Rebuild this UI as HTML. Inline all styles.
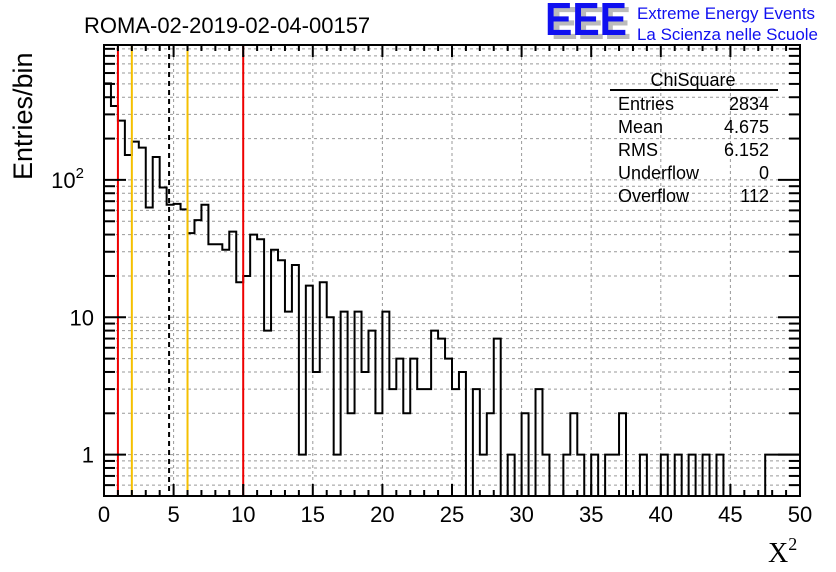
<!DOCTYPE html>
<html><head><meta charset="utf-8"><style>
html,body{margin:0;padding:0;background:#fff;width:836px;height:572px;overflow:hidden}
svg{display:block;font-family:"Liberation Sans",sans-serif}
</style></head><body>
<svg id="c" width="836" height="572"></svg>
<script>
const binWidth = 0.5;
const binCounts = [505,345,270,152,190,172,63,147,88,66,67,61,41,51,66,34,34,31,42,18,20,40,37,8,31,26,11,24,1,17,4,18,10,1,11,2,11,4,8,2,11,3,5,2,5,3,3,8,7,5,3,4,0,3,1,2,7,0,1,0,2,0,3,1,0,0,1,2,1,0,1,0,1,1,2,0,0,1,0,0,1,0,1,0,1,0,1,0,1,0,0,0,0,0,0,1,1,1,1,1];
const xTicks = [0,5,10,15,20,25,30,35,40,45,50];
const yTicks = [1,10,100];
const yTickLabels = ["1","10","10"];
const yTickExps = ["","","2"];
const redLines = [1,10];
const yellowLines = [2,6];
const meanValue = 4.675;

const L=104,R=800,T=45,B=496,yMin=0.5,yMax=960;
const sx=v=>L+(v/50)*(R-L);
const sy=v=>B-(Math.log10(v)-Math.log10(yMin))/(Math.log10(yMax)-Math.log10(yMin))*(B-T);
const svg=document.getElementById('c');
const NS='http://www.w3.org/2000/svg';
function mk(tag,attrs,name,parent){const e=document.createElementNS(NS,tag);for(const k in attrs)e.setAttribute(k,attrs[k]);


(parent||svg).appendChild(e);return e;}
function txt(s,attrs,name){const e=mk('text',attrs,name);e.textContent=s;return e;}

for(const t of xTicks){if(t>0&&t<50)mk('line',{x1:sx(t),x2:sx(t),y1:T,y2:B,stroke:'#999','stroke-dasharray':'3,3'},'x-grid-line');}
for(let d=0.1;d<=1000;d*=10){for(let m=1;m<10;m++){const v=d*m;if(v>yMin&&v<yMax){mk('line',{x1:L,x2:R,y1:sy(v),y2:sy(v),stroke:'#999','stroke-dasharray':'3,3'},'y-grid-line');}}}

let d='';let prevY=B;
for(let i=0;i<binCounts.length;i++){const x0=sx(i*binWidth),x1=sx((i+1)*binWidth);const c=binCounts[i];const y=c>0?Math.max(sy(c),T):B;
if(i===0)d+=`M${x0},${y}`;else d+=`L${x0},${prevY}L${x0},${y}`;d+=`L${x1},${y}`;prevY=y;}
mk('path',{d:d,fill:'none',stroke:'#000','stroke-width':2},'histogram-line');

for(const v of redLines)mk('line',{x1:sx(v),x2:sx(v),y1:T,y2:B,stroke:'#e00','stroke-width':2},'red-cut-line');
for(const v of yellowLines)mk('line',{x1:sx(v),x2:sx(v),y1:T,y2:B,stroke:'#f5c000','stroke-width':2},'yellow-cut-line');
mk('line',{x1:sx(meanValue),x2:sx(meanValue),y1:T,y2:B,stroke:'#000','stroke-width':2,'stroke-dasharray':'5,4'},'mean-line');

mk('rect',{x:L,y:T,width:R-L,height:B-T,fill:'none',stroke:'#000','stroke-width':2},'plot-frame');
for(let v=0;v<=50;v++){const big=v%5===0;const h=big?12:6;
mk('line',{x1:sx(v),x2:sx(v),y1:B,y2:B-h,stroke:'#000','stroke-width':2},'x-tick');
mk('line',{x1:sx(v),x2:sx(v),y1:T,y2:T+h,stroke:'#000','stroke-width':2},'x-tick-top');}
xTicks.forEach(t=>txt(String(t),{x:sx(t),y:522,'font-size':22,'text-anchor':'middle'},'x-tick-label'));
for(let dd=0.1;dd<=1000;dd*=10){for(let m=1;m<10;m++){const v=dd*m;if(v>=yMin&&v<=yMax){const big=m===1;const w=big?22:11;
mk('line',{x1:L,x2:L+w,y1:sy(v),y2:sy(v),stroke:'#000','stroke-width':2},'y-tick');
mk('line',{x1:R,x2:R-w,y1:sy(v),y2:sy(v),stroke:'#000','stroke-width':2},'y-tick-right');}}}
yTicks.forEach((t,i)=>{const e=txt('',{x:yTickExps[i]?84:94,y:sy(t)+8,'font-size':22,'text-anchor':'end'},'y-tick-label');
e.textContent=yTickLabels[i];
if(yTickExps[i]){const s=document.createElementNS(NS,'tspan');s.setAttribute('dy','-10');s.setAttribute('font-size','15');s.textContent=yTickExps[i];e.appendChild(s);}});

txt('ROMA-02-2019-02-04-00157',{x:84,y:33,'font-size':22},'chart-title');
txt('Entries/bin',{x:0,y:0,'font-size':27,transform:'translate(32,180) rotate(-90)'},'y-axis-title');
const xt=txt('',{x:768,y:562,'font-size':28,'font-family':'Liberation Serif,serif'},'x-axis-title');
xt.innerHTML='X<tspan dy="-12" font-size="18">2</tspan>';

txt('EEE',{x:551,y:39,'font-size':46,'font-weight':'bold',fill:'#bbb',textLength:80,lengthAdjust:'spacingAndGlyphs'},'logo-shadow');
txt('EEE',{x:545,y:35,'font-size':46,'font-weight':'bold',fill:'#1010f0',textLength:82,lengthAdjust:'spacingAndGlyphs'},'eee-logo');
txt('Extreme Energy Events',{x:637,y:19,'font-size':16.5,fill:'#1010f0',textLength:178,lengthAdjust:'spacingAndGlyphs'},'logo-line-1');
txt('La Scienza nelle Scuole',{x:637,y:40,'font-size':16.5,fill:'#1010f0',textLength:181,lengthAdjust:'spacingAndGlyphs'},'logo-line-2');

txt('ChiSquare',{x:693,y:86,'font-size':18,'text-anchor':'middle'},'stats-title');
mk('line',{x1:610,x2:778,y1:90,y2:90,stroke:'#000','stroke-width':2},'stats-divider');
const rows=[['Entries','2834'],['Mean','4.675'],['RMS','6.152'],['Underflow','0'],['Overflow','112']];
rows.forEach((r,i)=>{txt(r[0],{x:618,y:110+i*23,'font-size':18},'stats-label');txt(r[1],{x:769,y:110+i*23,'font-size':18,'text-anchor':'end'},'stats-value');});
</script>
</body></html>
